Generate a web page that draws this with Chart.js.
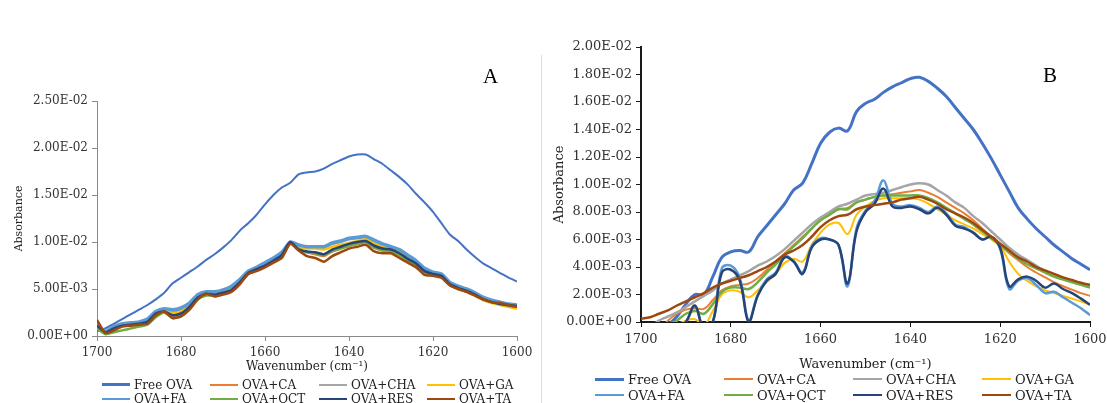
<!DOCTYPE html>
<html><head><meta charset="utf-8">
<script src="https://cdn.jsdelivr.net/npm/chart.js@4.4.1/dist/chart.umd.min.js"></script>
<style>
html,body{margin:0;padding:0;background:#fff;}
body{width:1107px;height:403px;position:relative;overflow:hidden;font-family:"DejaVu Serif",serif;}
canvas{position:absolute;}
#cA{left:0;top:0;}
#cB{left:542px;top:0;}
.sep{position:absolute;left:541px;top:55px;width:1px;height:348px;background:#dcdcdc;}
.plabel{position:absolute;font-family:"Liberation Serif",serif;font-size:21px;color:#000;line-height:1;}
.leg{position:absolute;white-space:nowrap;color:#222;line-height:1;}
.leg i{display:inline-block;vertical-align:middle;margin-right:4px;}
.leg span{vertical-align:middle;}
</style></head>
<body>
<div class="sep"></div>
<canvas id="cA" width="540" height="403"></canvas>
<canvas id="cB" width="565" height="403"></canvas>
<div class="plabel" style="left:483px;top:66px">A</div>
<div class="plabel" style="left:1043px;top:65px">B</div>
<div id="legA"></div><div id="legB"></div>
<script>
// ---- categories (wavenumber, cm-1) ----
const wavenumbers = [1700,1698,1696,1694,1692,1690,1688,1686,1684,1682,1680,1678,1676,1674,1672,1670,1668,1666,1664,1662,1660,1658,1656,1654,1652,1650,1648,1646,1644,1642,1640,1638,1636,1634,1632,1630,1628,1626,1624,1622,1620,1618,1616,1614,1612,1610,1608,1606,1604,1602,1600];
const seriesNames = ['Free OVA','OVA+CA','OVA+CHA','OVA+GA','OVA+FA','OVA+QCT','OVA+RES','OVA+TA'];
const seriesColors = ['#4472C4','#ED7D31','#A5A5A5','#FFC000','#5B9BD5','#70AD47','#264478','#9E480E'];
const xTicks = [1700,1680,1660,1640,1620,1600];

// ---- Panel A values (x 1e-3 absorbance) ----
const a_free = [0.5,0.8,1.3,1.8,2.3,2.8, 3.3,3.9,4.6,5.6,6.2, 6.8,7.4,8.1,8.7,9.4, 10.2,11.2,12.0,12.9,14.0, 15.0,15.8,16.3,17.2,17.4, 17.5,17.8,18.3,18.7,19.1, 19.3,19.3,18.8,18.3,17.6, 16.9,16.1,15.1,14.2,13.2, 12.0,10.8,10.1,9.2,8.4, 7.7,7.2,6.7,6.2,5.8];
const a_ca   = [1.3,0.3,0.7,1.1,1.2,1.3, 1.4,2.3,2.7,2.1,2.3, 3.0,4.0,4.5,4.3,4.5, 4.8,5.6,6.6,7.0,7.4, 7.9,8.5,9.9,9.2,8.9, 8.7,8.5,9.0,9.3,9.6, 9.8,10.0,9.4,9.1,9.0, 8.6,8.0,7.5,6.8,6.5, 6.3,5.4,5.0,4.7,4.3, 3.9,3.6,3.4,3.3,3.1];
const a_cha  = [1.0,0.4,0.9,1.2,1.3,1.4, 1.7,2.5,2.8,2.6,2.8, 3.3,4.3,4.6,4.6,4.8, 5.2,5.9,6.8,7.2,7.7, 8.2,8.8,9.9,9.6,9.4, 9.4,9.4,9.8,10.0,10.3, 10.4,10.5,10.1,9.7,9.5, 9.1,8.5,7.9,7.1,6.7, 6.5,5.6,5.2,4.9,4.5, 4.0,3.7,3.5,3.3,3.2];
const a_ga   = [1.0,0.3,0.8,1.2,1.3,1.4, 1.6,2.5,2.7,2.4,2.6, 3.2,4.2,4.6,4.5,4.7, 5.0,5.7,6.7,7.1,7.5, 8.0,8.6,9.9,9.4,9.3, 9.3,9.2,9.5,9.7,9.9, 10.1,10.3,9.8,9.5,9.3, 8.9,8.3,7.8,7.0,6.6, 6.4,5.5,5.0,4.7,4.3, 3.8,3.5,3.3,3.1,2.9];
const a_fa   = [1.2,0.5,1.0,1.3,1.4,1.5, 1.8,2.6,2.9,2.8,3.0, 3.5,4.4,4.7,4.7,4.9, 5.3,6.0,6.9,7.3,7.8, 8.3,8.9,10.0,9.7,9.5, 9.5,9.5,9.9,10.1,10.4, 10.5,10.6,10.2,9.8,9.5, 9.2,8.6,8.0,7.2,6.8, 6.6,5.7,5.3,5.0,4.6, 4.1,3.8,3.6,3.4,3.3];
const a_qct  = [0.8,0.2,0.4,0.6,0.8,1.0, 1.2,2.0,2.5,1.9,2.1, 2.8,3.9,4.3,4.3,4.5, 4.8,5.6,6.6,7.0,7.4, 7.9,8.5,9.9,9.3,8.9, 8.8,8.6,9.0,9.3,9.6, 9.8,10.0,9.4,9.1,9.0, 8.6,8.0,7.5,6.8,6.5, 6.3,5.4,5.0,4.7,4.3, 3.9,3.6,3.4,3.2,3.1];
const a_res  = [1.1,0.4,0.8,1.1,1.2,1.3, 1.5,2.4,2.6,2.2,2.4, 3.1,4.1,4.5,4.4,4.6, 4.9,5.7,6.7,7.1,7.5, 8.0,8.6,10.0,9.2,9.0, 8.9,8.7,9.2,9.5,9.8, 10.0,10.1,9.6,9.3,9.2, 8.8,8.2,7.7,6.9,6.6, 6.4,5.5,5.1,4.8,4.4, 3.9,3.6,3.4,3.3,3.2];
const a_ta   = [1.7,0.3,0.6,1.0,1.1,1.2, 1.3,2.2,2.6,1.9,2.1, 2.8,3.9,4.5,4.2,4.4, 4.7,5.5,6.6,6.9,7.3, 7.8,8.3,9.8,9.1,8.5, 8.3,7.9,8.5,8.9,9.3, 9.5,9.7,9.0,8.8,8.8, 8.3,7.8,7.3,6.5,6.4, 6.2,5.4,5.0,4.7,4.3, 3.9,3.6,3.5,3.3,3.1];

// ---- Panel B values (x 1e-3 absorbance) ----
const b_free = [-2.0,-1.3,-0.7,-0.2,0.4,1.3, 2.0,2.0,3.3,4.7,5.1, 5.2,5.1,6.2,7.0,7.8, 8.6,9.6,10.1,11.5,13.0, 13.8,14.1,13.9,15.3,15.9, 16.2,16.7,17.1,17.4,17.7, 17.8,17.5,17.0,16.4,15.6, 14.8,14.0,13.0,11.9,10.7, 9.5,8.3,7.5,6.8,6.2, 5.6,5.1,4.6,4.2,3.8];
const b_ca   = [-2.0,-1.5,-0.7,0.1,0.6,0.9, 1.0,0.95,1.6,2.3,2.6, 2.7,2.8,3.2,3.8,4.4, 5.0,5.6,6.2,6.8,7.4, 7.8,8.2,8.3,8.7,8.9, 9.1,9.2,9.3,9.4,9.5, 9.6,9.4,9.1,8.7,8.3, 7.9,7.4,6.8,6.2,5.6, 5.0,4.5,4.0,3.6,3.25, 2.9,2.6,2.35,2.1,1.9];
const b_cha  = [-0.8,-0.4,0.1,0.4,0.7,1.1, 1.5,1.9,2.3,2.8,3.1, 3.4,3.7,4.1,4.4,4.8, 5.3,5.9,6.5,7.1,7.6, 8.0,8.4,8.6,8.9,9.2, 9.3,9.4,9.6,9.8,10.0, 10.1,10.0,9.6,9.2,8.7, 8.3,7.7,7.2,6.6,6.0, 5.4,4.9,4.5,4.1,3.7, 3.4,3.1,2.9,2.75,2.6];
const b_ga   = [-3.0,-2.2,-1.4,-0.6,-0.2,0.1, 0.2,-0.2,0.8,2.0,2.3, 2.2,1.8,2.3,2.9,3.5, 4.3,4.6,4.4,5.6,6.5, 7.1,7.2,6.4,7.8,8.4, 8.8,9.0,9.0,9.0,9.0, 8.9,8.6,8.2,7.8,7.4, 7.1,6.8,6.4,6.0,5.5, 4.4,3.5,3.0,2.6,2.3, 2.1,1.9,1.7,1.5,1.25];
const b_fa   = [-4.0,-3.0,-2.0,-1.0,-0.5,0.0, 1.1,-0.4,0.0,3.9,4.1, 3.2,0.1,2.0,3.1,3.6, 4.8,4.4,3.6,5.5,6.1, 6.0,5.6,2.6,6.8,8.1, 8.8,10.3,8.6,8.4,8.5, 8.3,8.0,8.4,7.9,7.1, 6.9,6.5,6.0,6.2,5.3, 2.4,3.0,3.2,2.7,2.1, 2.2,1.8,1.4,1.0,0.5];
const b_qct  = [-2.5,-1.8,-1.0,-0.3,0.1,0.6, 0.8,0.6,1.3,2.2,2.5, 2.5,2.4,2.9,3.6,4.2, 4.9,5.5,6.1,6.8,7.4, 7.8,8.2,8.2,8.7,8.9, 9.1,9.2,9.2,9.2,9.2, 9.2,9.0,8.7,8.3,7.9, 7.5,7.1,6.6,6.1,5.6, 5.1,4.6,4.2,3.9,3.6, 3.3,3.1,2.9,2.7,2.5];
const b_res  = [-4.0,-3.0,-2.0,-1.0,-0.5,0.0, 1.2,-0.5,0.0,3.6,3.8, 3.0,0.0,1.9,3.0,3.5, 4.7,4.4,3.5,5.4,6.0, 6.0,5.6,2.8,6.6,8.0, 8.6,9.7,8.4,8.3,8.4, 8.2,7.9,8.3,7.8,7.0, 6.8,6.5,6.0,6.2,5.4, 2.6,3.1,3.3,3.0,2.5, 2.8,2.4,2.1,1.7,1.25];
const b_ta   = [0.25,0.35,0.6,0.85,1.2,1.5, 1.8,2.1,2.5,2.8,3.0, 3.2,3.4,3.7,4.0,4.4, 4.9,5.2,5.6,6.2,6.9, 7.4,7.7,7.8,8.2,8.4, 8.5,8.6,8.7,8.9,9.0, 9.1,8.9,8.6,8.2,7.9, 7.6,7.2,6.7,6.2,5.7, 5.2,4.7,4.4,4.0,3.75, 3.5,3.25,3.05,2.85,2.7];

const seriesA = [a_free,a_ca,a_cha,a_ga,a_fa,a_qct,a_res,a_ta];
const seriesB = [b_free,b_ca,b_cha,b_ga,b_fa,b_qct,b_res,b_ta];

function sci(v){
  const x = v * 1e-3;
  const parts = x.toExponential(2).split('e');
  const sign = parts[1][0] === '-' ? '-' : '+';
  const digits = parts[1].replace(/[+-]/, '').padStart(2, '0');
  return parts[0] + 'E' + sign + digits;
}

function makeChart(id, cfg){
  const datasets = cfg.series.map((vals, i) => ({
    label: seriesNames[i],
    data: wavenumbers.map((w, k) => ({x: w, y: vals[k]})),
    borderColor: seriesColors[i],
    backgroundColor: seriesColors[i],
    borderWidth: cfg.widths[i],
    pointRadius: 0,
    tension: cfg.tension,
    fill: false,
    order: seriesNames.length - i
  }));
  return new Chart(document.getElementById(id), {
    type: 'line',
    data: {datasets},
    options: {
      responsive: false, animation: false, devicePixelRatio: 1,
      layout: {padding: cfg.padding},
      plugins: {legend: {display: false}, tooltip: {enabled: false}},
      scales: {
        x: {
          type: 'linear', reverse: true, min: 1600, max: 1700,
          afterBuildTicks: s => { s.ticks = xTicks.map(v => ({value: v})); },
          afterFit: s => { s.height = cfg.xHeight; s.paddingLeft = 0; s.paddingRight = 0; },
          ticks: {callback: v => String(v), maxRotation: 0, autoSkip: false, padding: 5,
                  color: '#333', font: {family: 'DejaVu Serif', size: cfg.tickSize}},
          grid: {drawOnChartArea: false, drawTicks: true, tickLength: 5, color: cfg.axisColor, lineWidth: 1},
          border: {display: true, color: cfg.axisColor, width: cfg.axisWidth},
          title: {display: true, text: 'Wavenumber (cm\u207B\u00B9)', color: '#222', padding: 0,
                  font: {family: 'DejaVu Serif', size: cfg.titleSize}}
        },
        y: {
          min: 0, max: cfg.yMax,
          afterFit: s => { s.width = cfg.yWidth; s.paddingTop = 0; s.paddingBottom = 0; },
          ticks: {stepSize: cfg.yStep, callback: v => sci(v), padding: 4,
                  color: '#333', font: {family: 'DejaVu Serif', size: cfg.tickSize}},
          grid: {drawOnChartArea: false, drawTicks: true, tickLength: 5, color: cfg.axisColor, lineWidth: 1},
          border: {display: true, color: cfg.axisColor, width: cfg.axisWidth},
          title: {display: true, text: 'Absorbance', color: '#222', padding: 0,
                  font: {family: 'DejaVu Serif', size: cfg.yTitleSize}}
        }
      }
    }
  });
}

makeChart('cA', {
  series: seriesA, widths: [2, 2.5, 2.5, 2.5, 3.5, 2.5, 2.5, 2.5], tension: 0.2,
  padding: {left: 13, top: 101, right: 23, bottom: 29},
  yWidth: 84, xHeight: 38, yMax: 25, yStep: 5,
  tickSize: 12, titleSize: 12, yTitleSize: 11, axisColor: '#8a8a8a', axisWidth: 1
});
makeChart('cB', {
  series: seriesB, widths: [3, 2, 2.5, 2, 2.5, 2.5, 2.5, 2.5], tension: 0.4,
  padding: {left: 10, top: 47, right: 17, bottom: 31},
  yWidth: 89, xHeight: 50, yMax: 20, yStep: 2,
  tickSize: 13, titleSize: 13, yTitleSize: 13, axisColor: '#1a1a1a', axisWidth: 2
});

// ---- HTML legends (4 columns x 2 rows) ----
function makeLegend(id, colX, rowY, lineLen, fontSize, thick){
  const host = document.getElementById(id);
  seriesNames.forEach((name, i) => {
    const d = document.createElement('div');
    d.className = 'leg';
    d.style.left = colX[i % 4] + 'px';
    d.style.top = (rowY[Math.floor(i / 4)] - fontSize / 2 - 1) + 'px';
    d.style.fontSize = fontSize + 'px';
    const ln = document.createElement('i');
    ln.style.width = lineLen + 'px';
    ln.style.height = (i === 0 ? thick + 1 : thick) + 'px';
    ln.style.background = seriesColors[i];
    const t = document.createElement('span');
    t.textContent = name;
    d.appendChild(ln); d.appendChild(t);
    host.appendChild(d);
  });
}
makeLegend('legA', [102, 210, 319, 427], [385, 399], 28, 12, 2);
makeLegend('legB', [595, 724, 853, 982], [379, 395], 29, 13, 2);
</script>
</body></html>
